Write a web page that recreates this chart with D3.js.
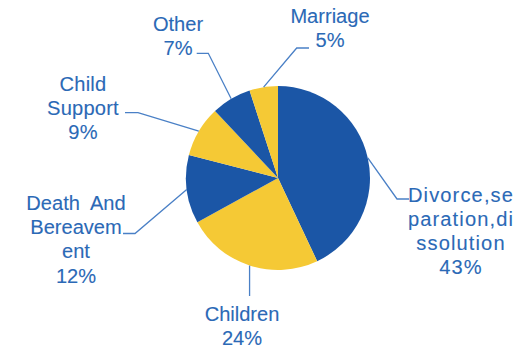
<!DOCTYPE html>
<html>
<head>
<meta charset="utf-8">
<script src="https://cdn.jsdelivr.net/npm/d3@7/dist/d3.min.js"></script>
<style>
  body { margin: 0; background: #fff; }
  text { font-family: "Liberation Sans", Arial, sans-serif; font-size: 19.5px; fill: #2b69b6;
         stroke: #2b69b6; stroke-width: 0.1px; white-space: pre; }
</style>
</head>
<body>
<script>
// chart data
var categories = ['Divorce,separation,dissolution', 'Children', 'Death And Bereavement',
                  'Child Support', 'Other', 'Marriage'];
var shares = [43, 24, 12, 9, 7, 5];
var colors = ['#1b56a6', '#f5c935', '#1b56a6', '#f5c935', '#1b56a6', '#f5c935'];

// how each label wraps, and where it sits (layout only)
var labelLines = [
  ['Divorce,se', 'paration,di', 'ssolution'],
  ['Children'],
  ['Death  And', 'Bereavem', 'ent'],
  ['Child', 'Support'],
  ['Other'],
  ['Marriage']
];
var labelLayout = [
  { cx: 461, y: 201.5, elbow: [397, 199], end: [409, 199], ls: 1.1 },
  { cx: 242, y: 320.5, elbow: [251, 296], end: [251, 296], ls: 0 },
  { cx: 76, y: 210, elbow: [135, 233.5], end: [123, 233.5], ls: 0 },
  { cx: 83, y: 90.5, elbow: [138, 112.7], end: [125, 112.7], ls: 0.2 },
  { cx: 178, y: 30.7, elbow: [208.3, 53.3], end: [196.7, 53.3], ls: 0 },
  { cx: 330, y: 23, elbow: [296.7, 48], end: [309, 48], ls: 0 }
];

var width = 532, height = 348;
var center = [278, 178], radius = 92, lineH = 24.2, stretch = 1.03;

var svg = d3.select('body').append('svg')
  .attr('width', width)
  .attr('height', height);

var pie = d3.pie().sort(null).value(function(d) { return d; });
var arcs = pie(shares);

var arc = d3.arc().innerRadius(0).outerRadius(radius);
var edge = d3.arc().innerRadius(radius).outerRadius(radius);

var g = svg.append('g')
  .attr('transform', 'translate(' + center[0] + ',' + center[1] + ')');

g.selectAll('path.slice')
  .data(arcs)
  .enter()
  .append('path')
  .attr('class', 'slice')
  .attr('d', arc)
  .attr('fill', function(d, i) { return colors[i]; });

// leader lines
svg.selectAll('polyline')
  .data(arcs)
  .enter()
  .append('polyline')
  .attr('points', function(d, i) {
    var c = edge.centroid(d);
    var L = labelLayout[i];
    var s = [c[0] + center[0], c[1] + center[1]];
    if (i === 1) { // children: straight down
      return [s, [s[0], L.elbow[1]]].join(' ');
    }
    return [s, L.elbow, L.end].join(' ');
  })
  .attr('fill', 'none')
  .attr('stroke', '#4a80c6')
  .attr('stroke-width', 1.3);

// labels
var labels = svg.selectAll('text.lbl')
  .data(arcs)
  .enter()
  .append('text')
  .attr('class', 'lbl')
  .attr('text-anchor', 'middle')
  .attr('transform', function(d, i) {
    return 'translate(' + labelLayout[i].cx + ',' + labelLayout[i].y + ') scale(' + stretch + ',1)';
  })
  .style('letter-spacing', function(d, i) { return labelLayout[i].ls + 'px'; });

labels.each(function(d, i) {
  var t = d3.select(this);
  var lines = labelLines[i].concat([shares[i] + '%']);
  lines.forEach(function(s, k) {
    t.append('tspan')
      .attr('x', 0)
      .attr('dy', k === 0 ? 0 : lineH)
      .text(s);
  });
});
</script>
</body>
</html>
